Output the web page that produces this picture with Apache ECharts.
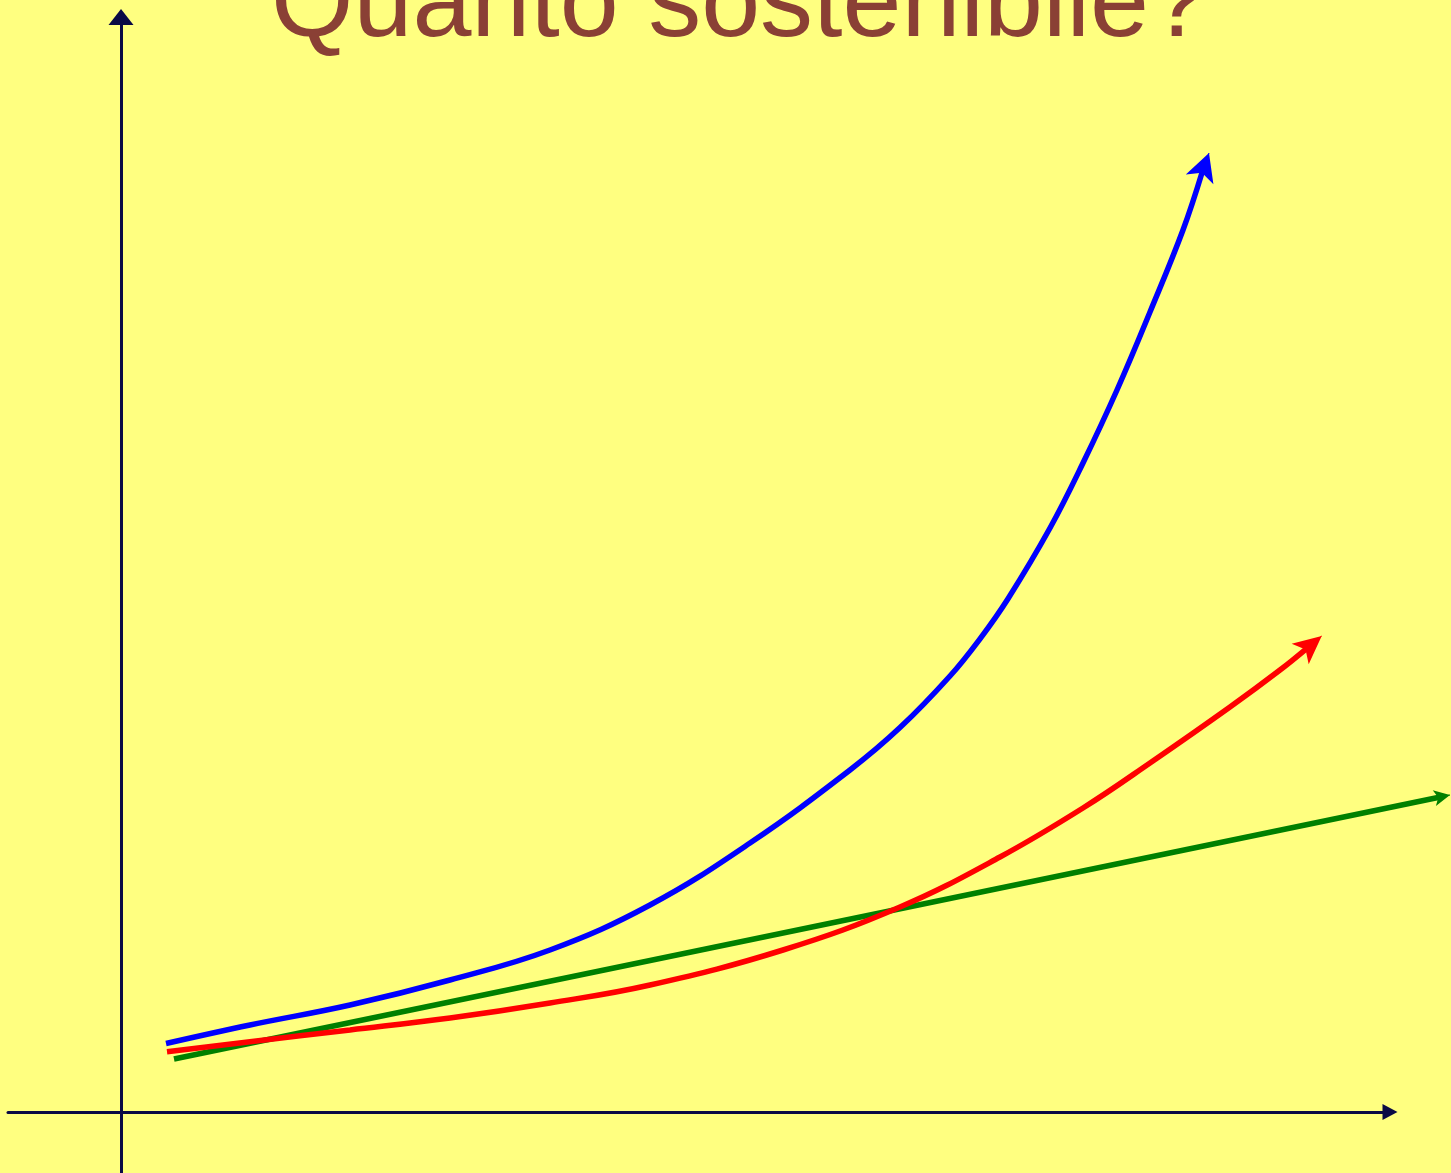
<!DOCTYPE html>
<html>
<head>
<meta charset="utf-8">
<script src="https://cdn.jsdelivr.net/npm/echarts@6/dist/echarts.min.js"></script>
<style>
html,body{margin:0;padding:0;background:#FFFF80;}
#chart{width:1451px;height:1173px;}
</style>
</head>
<body>
<div id="chart"></div>
<script>
// Title
const titleText = 'Quanto sostenibile?';

// Curves: [x, y] in abstract units (origin where the axes cross)
const blueCurve = [
  [4.5, 6.85], [12.9, 8.7], [22.9, 10.7], [32.9, 13.2], [42.9, 16.2], [52.9, 20.7],
  [62.9, 26.9], [72.9, 34.2], [77.9, 38.44], [82.9, 43.6], [85.9, 47.32], [88.7, 51.33],
  [92.9, 58.4], [96.2, 64.9], [99.6, 72.2], [102.9, 80.0], [106.2, 88.2], [108.13, 94.02]
];
const blueTip = [108.8, 95.9];

const redCurve = [
  [4.6, 6.03], [12.9, 7.03], [22.9, 8.2], [32.9, 9.4], [42.9, 10.9], [52.9, 12.7],
  [66.2, 16.2], [77.9, 20.5], [87.9, 25.5], [96.2, 30.4], [102.9, 34.9], [110.9, 40.5],
  [115.9, 44.2], [118.53, 46.32]
];
const redTip = [120.07, 47.6];

const greenLine = [
  [5.3, 5.3], [131.82, 31.48]
];
const greenTip = [132.9, 31.7];

// Visible axes extents (abstract units) and the wider plotting extent for the curves
const xRange = [-11.3, 126.9];
const yRange = [-6.1, 109.5];
const xPlotRange = [-11.3, 133.0];

const AXIS_COLOR = '#0a0a45';
const LINE_W = 5.5;

function hiddenAxis(range, gridIndex) {
  return {
    type: 'value', gridIndex: gridIndex, min: range[0], max: range[1],
    axisLine: { show: false }, axisTick: { show: false },
    axisLabel: { show: false }, splitLine: { show: false }
  };
}

function curveSeries(name, pts, tip, color, arrowSize, smooth) {
  const n = pts.length;
  return {
    name: name,
    type: 'line',
    xAxisIndex: 1,
    yAxisIndex: 1,
    data: pts,
    smooth: smooth,
    showSymbol: false,
    symbol: 'none',
    clip: false,
    lineStyle: { color: color, width: LINE_W, cap: 'butt' },
    emphasis: { disabled: true },
    animation: false,
    markLine: {
      silent: true,
      animation: false,
      symbol: ['none', 'arrow'],
      symbolSize: arrowSize,
      label: { show: false },
      emphasis: { disabled: true },
      lineStyle: { color: color, width: 1, type: 'solid', opacity: 1 },
      data: [[{ coord: pts[n - 1] }, { coord: tip }]]
    }
  };
}

const chart = echarts.init(document.getElementById('chart'), null, { renderer: 'canvas' });
chart.setOption({
  backgroundColor: '#FFFF80',
  animation: false,
  title: {
    text: titleText,
    left: 266,
    top: -51,
    textStyle: {
      color: '#8A4035',
      fontFamily: 'Liberation Sans, Arial, sans-serif',
      fontSize: 106,
      fontWeight: 'normal'
    }
  },
  grid: [
    { left: 8, right: 61, top: 17, bottom: 0, containLabel: false },
    { left: 8, right: 0, top: 17, bottom: 0, containLabel: false }
  ],
  xAxis: [
    {
      type: 'value', gridIndex: 0,
      min: xRange[0], max: xRange[1],
      axisLine: {
        show: true, onZero: true,
        symbol: ['none', 'triangle'], symbolSize: [16, 15],
        lineStyle: { color: AXIS_COLOR, width: 3 }
      },
      axisTick: { show: false },
      axisLabel: { show: false },
      splitLine: { show: false }
    },
    hiddenAxis(xPlotRange, 1)
  ],
  yAxis: [
    {
      type: 'value', gridIndex: 0,
      min: yRange[0], max: yRange[1],
      axisLine: {
        show: true, onZero: true,
        symbol: ['none', 'triangle'], symbolSize: [25, 16],
        lineStyle: { color: AXIS_COLOR, width: 3 }
      },
      axisTick: { show: false },
      axisLabel: { show: false },
      splitLine: { show: false }
    },
    hiddenAxis(yRange, 1)
  ],
  series: [
    curveSeries('green', greenLine, greenTip, '#008000', [12, 16], false),
    curveSeries('red', redCurve, redTip, '#FF0000', [20, 28], 0.4),
    curveSeries('blue', blueCurve, blueTip, '#0000FF', [22, 28], 0.4)
  ]
});
</script>
</body>
</html>
